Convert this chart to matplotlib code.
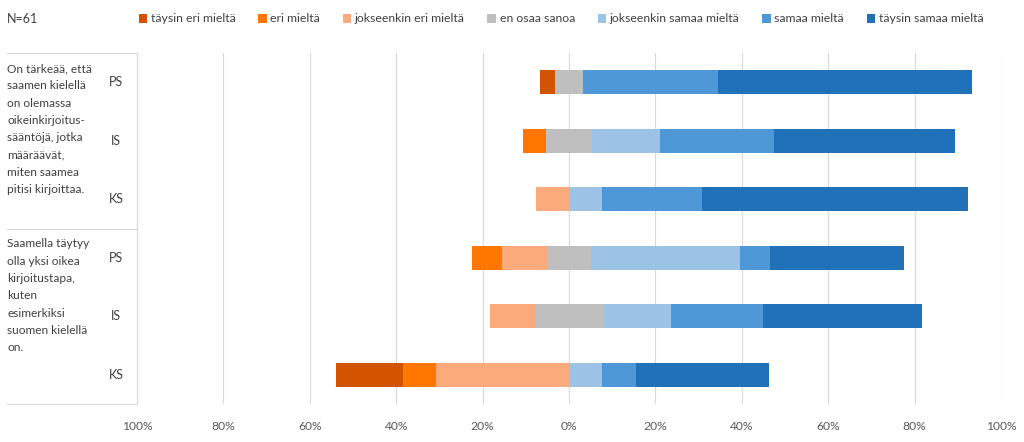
import numpy as np
import matplotlib
matplotlib.use('Agg')
from matplotlib import pyplot as plt
from matplotlib import transforms
from matplotlib.ticker import FuncFormatter

plt.rcParams['font.family'] = ['Lato', 'DejaVu Sans']

# data (percent), bars from top to bottom
rows = ['PS', 'IS', 'KS', 'PS', 'IS', 'KS']
groups = [
    'On tärkeää, että\nsaamen kielellä\non olemassa\noikeinkirjoitus-\nsääntöjä, jotka\nmääräävät,\nmiten saamea\npitisi kirjoittaa.',
    'Saamella täytyy\nolla yksi oikea\nkirjoitustapa,\nkuten\nesimerkiksi\nsuomen kielellä\non.',
]
labels = ['täysin eri mieltä', 'eri mieltä', 'jokseenkin eri mieltä', 'en osaa sanoa',
          'jokseenkin samaa mieltä', 'samaa mieltä', 'täysin samaa mieltä']
taysin_eri = [3.3, 0, 0, 0, 0, 15.4]
eri = [0, 5.3, 0, 6.9, 0, 7.7]
jokseenkin_eri = [0, 0, 7.7, 10.3, 10.5, 30.8]
en_osaa = [6.6, 10.5, 0, 10.3, 15.8, 0]
jokseenkin_samaa = [0, 15.8, 7.7, 34.5, 15.8, 7.7]
samaa = [31.1, 26.3, 23.1, 6.9, 21.1, 7.7]
taysin_samaa = [59.0, 42.1, 61.5, 31.0, 36.8, 30.8]

colors = ['#D35400', '#FF7700', '#FBAA7B', '#BFBFBF', '#9CC3E6', '#4F98D7', '#2171B8']

series = [taysin_eri, eri, jokseenkin_eri, en_osaa, jokseenkin_samaa, samaa, taysin_samaa]
data = np.array(series, dtype=float)

fig = plt.figure(figsize=(10.24, 4.42), dpi=100)
ax = fig.add_axes([137 / 1024, 1 - 404 / 442, 864 / 1024, 351 / 442])

y = np.arange(len(rows))
start = -(data[0] + data[1] + data[2] + data[3] / 2)
left = start.copy()
for vals, col, lab in zip(data, colors, labels):
    ax.barh(y, vals, left=left, height=0.41, color=col, label=lab, zorder=3)
    left = left + vals

ax.set_xlim(-100, 100)
ax.set_ylim(5.5, -0.5)
ax.set_xticks(np.arange(-100, 101, 20))
ax.xaxis.set_major_formatter(FuncFormatter(lambda v, p: f'{abs(int(round(v)))}%'))
ax.tick_params(axis='x', length=0, labelsize=8.7, labelcolor='#595959', pad=12)
ax.set_yticks([])
ax.grid(axis='x', color='#D9D9D9', linewidth=0.8, zorder=0)
for s in ['top', 'right', 'bottom']:
    ax.spines[s].set_visible(False)
ax.spines['left'].set_color('#D9D9D9')
ax.spines['left'].set_linewidth(0.8)

# category table on the left
trans = transforms.blended_transform_factory(ax.transAxes, ax.transData)
x0 = (7 - 137) / 864
for yy in [-0.5, 2.5, 5.5]:
    ax.plot([x0, 0], [yy, yy], transform=trans, color='#D9D9D9', lw=0.8, clip_on=False)
for i, r in enumerate(rows):
    ax.text(-0.0243, i, r, transform=trans, ha='center', va='center', fontsize=9, color='#404040')
ax.text(x0, -0.33, groups[0], transform=trans, ha='left', va='top', fontsize=8.6,
        color='#404040', linespacing=1.7)
ax.text(x0, 2.67, groups[1], transform=trans, ha='left', va='top', fontsize=8.6,
        color='#404040', linespacing=1.7)

fig.text(7 / 1024, 1 - 19 / 442, 'N=61', ha='left', va='center', fontsize=9, color='#404040')
leg = fig.legend(loc='center', bbox_to_anchor=(561 / 1024, 1 - 19 / 442), ncol=7, frameon=False,
                 fontsize=8.8, handlelength=0.7, handleheight=0.7, handletextpad=0.3,
                 columnspacing=1.85, labelcolor='#404040')

fig.savefig('out.png', dpi=100)
